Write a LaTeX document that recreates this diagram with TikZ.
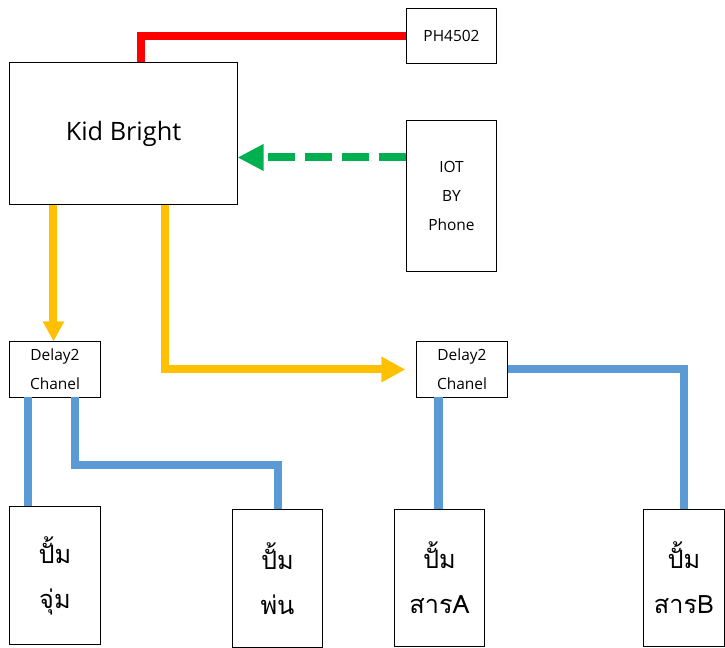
\documentclass[tikz,border=0pt]{standalone}
\usepackage{fontspec}
\setmainfont{Open Sans}
\newfontfamily\thaifont[Script=Thai]{Loma}
\usetikzlibrary{arrows.meta,positioning,calc}
\definecolor{wireRed}{RGB}{255,0,0}
\definecolor{wireGreen}{RGB}{0,176,80}
\definecolor{wireYellow}{RGB}{255,192,0}
\definecolor{wireBlue}{RGB}{91,155,213}

\begin{document}
\begin{tikzpicture}[x=0.025cm, y=-0.025cm,
    box/.style={draw, line width=0.7pt, inner sep=0pt, align=center},
    smallbox/.style={box, font=\fontsize{11}{20.5}\selectfont},
    pumpbox/.style={box, minimum height=3.425cm, font=\thaifont\fontsize{18}{32}\selectfont},
    wire/.style={line width=0.2cm}]
  \useasboundingbox (0,0) rectangle (725,648);
  % boxes
  \node[box, minimum width=5.675cm, minimum height=3.525cm, font=\fontsize{18}{22}\selectfont] (kb) at (123.5,133.5) {Kid Bright};
  \node[smallbox, minimum width=2.225cm, minimum height=1.35cm] (ph) at (451.5,36) {PH4502};
  \node[smallbox, minimum width=2.225cm, minimum height=3.75cm] (iot) at (451.5,196) {IOT\\BY\\Phone};
  \node[smallbox, minimum width=2.25cm, minimum height=1.375cm] (d1) at (55,369.5) {Delay2\\Chanel};
  \node[smallbox, minimum width=2.25cm, minimum height=1.375cm] (d2) at (462,369.5) {Delay2\\Chanel};
  \node[pumpbox, minimum width=2.25cm] (pj) at (55,575.5) {ปั้ม\\จุ่ม};
  \node[pumpbox, minimum width=2.225cm] (pp) at (277.5,578.5) {ปั้ม\\พ่น};
  \node[pumpbox, minimum width=2.225cm] (pa) at (439.5,578) {ปั้ม\\สารA};
  \node[pumpbox, minimum width=2.025cm] (pb) at (684,578) {ปั้ม\\สารB};
  % sensor and phone
  \draw[wire, wireRed] ($(kb.north west)+(132,0)$) |- (ph.west);
  \draw[wire, wireGreen, dash pattern=on 0.675cm off 0.25cm, -{Triangle[length=0.65cm,width=0.625cm]}] ($(iot.north west)+(0,37)$) coordinate (g) -- (g -| kb.east);
  % kid bright to relays
  \draw[wire, wireYellow, -{Triangle[length=0.5cm,width=0.5cm]}] ($(kb.south west)+(44,0)$) coordinate (y1) -- (y1 |- d1.north);
  \draw[wire, wireYellow, shorten >=0.275cm, -{Triangle[length=0.6cm,width=0.6cm]}] ($(kb.south west)+(156,0)$) |- (d2.west);
  % relays to pumps
  \draw[wire, wireBlue] ($(d1.south west)+(19,0)$) coordinate (b1) -- (b1 |- pj.north);
  \draw[wire, wireBlue] ($(d1.south west)+(66,0)$) |- ($(pp.north)+(0,-44)$) -- (pp.north);
  \draw[wire, wireBlue] ($(d2.south west)+(22,0)$) coordinate (b2) -- (b2 |- pa.north);
  \draw[wire, wireBlue] (d2.east) -| (pb.north);
\end{tikzpicture}
\end{document}
